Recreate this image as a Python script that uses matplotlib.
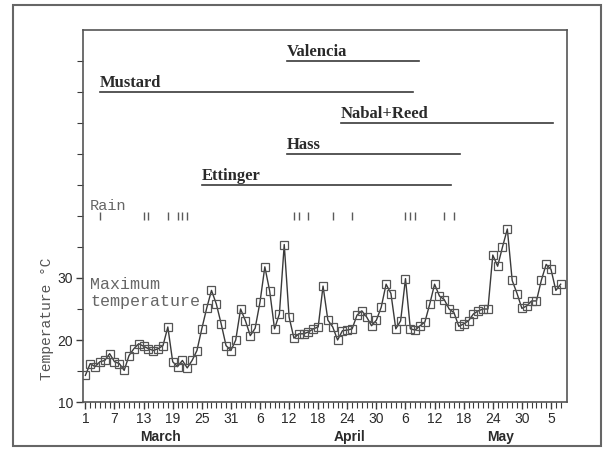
import numpy as np
import matplotlib.pyplot as plt
from matplotlib.patches import Rectangle


# Daily maximum temperature, 1 March to 7 June (day 0 = 1 March).
max_temp = [14.3, 16.2, 15.7, 16.5, 16.7, 17.8, 16.5, 16.2, 15.1, 17.5,
            18.6, 19.4, 19.0, 18.6, 18.3, 18.6, 19.1, 22.1, 16.5, 15.7,
            16.7, 15.5, 16.7, 18.3, 21.8, 25.1, 28.0, 25.8, 22.6, 19.1,
            18.3, 20.0, 25.0, 23.1, 20.7, 21.9, 26.1, 31.8, 27.9, 21.8,
            24.2, 35.4, 23.7, 20.3, 21.0, 21.0, 21.3, 21.8, 22.1, 28.7,
            23.2, 22.1, 20.0, 21.5, 21.6, 21.8, 24.0, 24.7, 23.7, 22.3,
            23.2, 25.3, 29.0, 27.5, 21.8, 23.1, 29.9, 21.8, 21.6, 22.3,
            22.9, 25.8, 29.0, 27.1, 26.5, 25.0, 24.4, 22.2, 22.6, 23.1,
            24.2, 24.7, 25.0, 25.0, 33.7, 31.9, 35.0, 37.9, 29.6, 27.5,
            25.1, 25.5, 26.3, 26.3, 29.6, 32.2, 31.4, 28.0, 29.0]

# Days with rain.
rain_days = [3, 12, 13, 17, 19, 20, 21, 43, 44, 46, 51, 55, 66, 67, 68, 74, 76]

# Flowering periods of the varieties (start day, end day, level).
varieties = ["Valencia", "Mustard", "Nabal+Reed", "Hass", "Ettinger"]
var_start = [41.6, 3.0, 52.7, 41.6, 24.0]
var_end = [68.7, 67.5, 96.4, 77.3, 75.3]
var_level = [65, 60, 55, 50, 45]

tick_days = [0, 6, 12, 18, 24, 30, 36, 42, 48, 54, 60, 66, 72, 78, 84, 90, 96]
tick_labels = ["1", "7", "13", "19", "25", "31", "6", "12", "18", "24", "30",
               "6", "12", "18", "24", "30", "5"]
months = ["March", "April", "May"]
month_pos = [15.4, 54.4, 85.5]

days = np.arange(len(max_temp))
ink = "#3a3a3a"
mono = "Liberation Mono"

fig = plt.figure(figsize=(6.1, 4.54), dpi=100)
ax = fig.add_axes([0.136, 0.1145, 0.7935, 0.8195])

ax.plot(days, max_temp, color=ink, lw=1.0, marker="s", markersize=5.8,
        markerfacecolor="none", markeredgecolor="#555555", markeredgewidth=0.9)

ax.plot(rain_days, [40] * len(rain_days), linestyle="none", marker="|",
        markersize=5.5, color="#5a5a5a", markeredgewidth=1.0)

for name, s, e, lev in zip(varieties, var_start, var_end, var_level):
    ax.plot([s, e], [lev, lev], color=ink, lw=1.2)
    ax.text(s, lev + 0.15, name, fontfamily="Liberation Serif",
            fontweight="bold", fontsize=12, color="#2a2a2a",
            ha="left", va="bottom")

ax.text(1, 41.6, "Rain", fontfamily=mono, fontsize=11, color="#666666",
        va="center")
ax.text(1, 28.9, "Maximum", fontfamily=mono, fontsize=12, color="#666666",
        va="center")
ax.text(1, 26.2, "temperature", fontfamily=mono, fontsize=12,
        color="#666666", va="center")

for m, p in zip(months, month_pos):
    ax.text(p, 4.4, m, fontfamily="Liberation Sans", fontweight="bold",
            fontsize=10, color="#2a2a2a", ha="center", va="center",
            clip_on=False)

fig.text(0.077, 0.297, "Temperature °C", fontfamily=mono, fontsize=10.5,
         color="#555555", rotation=90, ha="center", va="center")

ax.set_xlim(-0.5, 99.3)
ax.set_ylim(10, 70)
ax.set_xticks(tick_days)
ax.set_xticklabels(tick_labels)
ax.set_xticks(days, minor=True)
ax.set_yticks([10, 20, 30])
ax.set_yticks(np.arange(10, 70, 5), minor=True)
ax.tick_params(axis="both", which="major", direction="out", length=5,
               width=1, colors=ink, labelsize=10, pad=2)
ax.tick_params(axis="both", which="minor", direction="out", length=4,
               width=0.8, colors=ink)
for lab in ax.get_xticklabels() + ax.get_yticklabels():
    lab.set_fontfamily("Liberation Sans")
    lab.set_color("#2a2a2a")
for sp in ax.spines.values():
    sp.set_color("#555555")
    sp.set_linewidth(1.2)

fig.patches.append(Rectangle((0.021, 0.0176), 0.964, 0.971,
                             transform=fig.transFigure, fill=False,
                             edgecolor="#666666", lw=1.5))

fig.savefig("out.png", dpi=100)
